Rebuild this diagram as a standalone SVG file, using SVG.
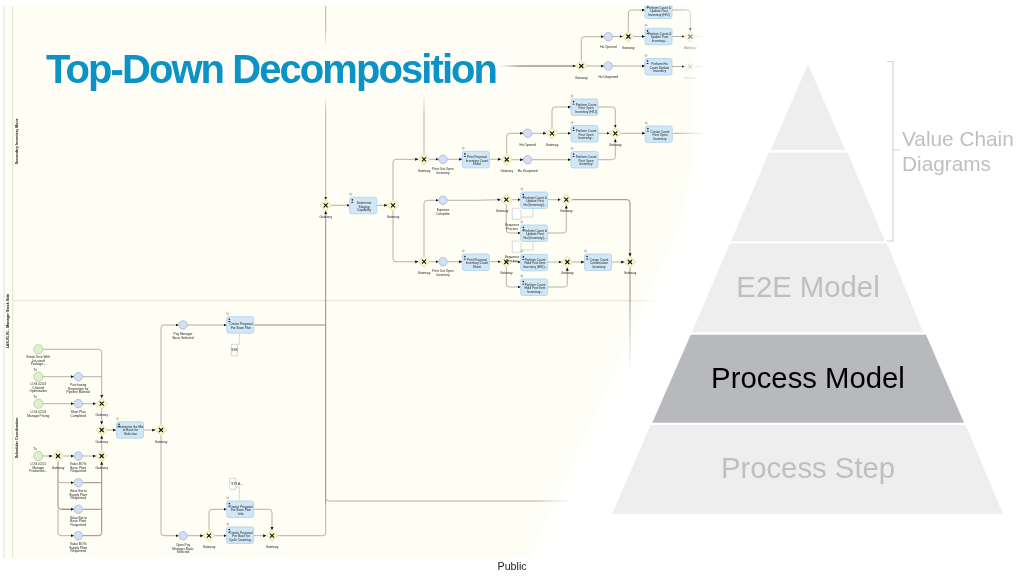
<svg xmlns="http://www.w3.org/2000/svg" width="1024" height="576" viewBox="0 0 1024 576">
<style>
.t{font-family:"Liberation Sans",Arial,sans-serif;font-size:3.2px;fill:#222;text-anchor:middle}
.lane{font-family:"Liberation Sans",Arial,sans-serif;font-size:3.6px;font-weight:bold;fill:#111;stroke:none;text-anchor:middle}
.l{fill:none;stroke:#b2b2a8;stroke-width:1;stroke-linejoin:round}
.d{stroke:#8e8e86}
.a{marker-end:url(#ah)}
.as{fill:none;stroke:#d0d0c8;stroke-width:.8}
.gwb{fill:#fdf8cf;stroke:#d8d49c;stroke-width:.8}
.gwx{stroke:#111;stroke-width:1.1;fill:none}
.tb{fill:#d0e7f7;stroke:#aed2ea;stroke-width:.8}
.ev{fill:#d3dff2;stroke:#a6bcdc;stroke-width:.9}
.st{fill:#dcf0d0;stroke:#aed596;stroke-width:.9}
.nt{fill:#fff;stroke:#c8c8c0;stroke-width:.7}
.py{fill:#eeeeee}
.pt{font-family:"Liberation Sans",Arial,sans-serif;fill:#bfbfbf;text-anchor:middle;font-size:29.3px}
</style>
<defs>
<marker id="ah" markerWidth="4" markerHeight="4" refX="3.2" refY="1.5" orient="auto" markerUnits="userSpaceOnUse"><path d="M0 0L3.2 1.5L0 3z" fill="#111"/></marker>
<filter id="soft" x="-2%" y="-2%" width="104%" height="104%"><feGaussianBlur stdDeviation="0.35"/></filter>
<filter id="bl" x="-10%" y="-40%" width="120%" height="180%"><feGaussianBlur stdDeviation="7"/></filter>
<linearGradient id="diag" gradientUnits="userSpaceOnUse" x1="633" y1="286.5" x2="663" y2="300"><stop offset="0" stop-color="#fff" stop-opacity="0"/><stop offset="1" stop-color="#fff"/></linearGradient>
<linearGradient id="rgt" gradientUnits="userSpaceOnUse" x1="678" y1="0" x2="705" y2="0"><stop offset="0" stop-color="#fff" stop-opacity="0"/><stop offset="1" stop-color="#fff"/></linearGradient>
<g id="gw"><path class="gwb" d="M0-5.6L5.6 0L0 5.6L-5.6 0z"/><path class="gwx" d="M-2-2L2 2M2-2L-2 2"/></g>
<g id="tk"><circle cx="1" cy="-3" r="1" fill="#e8eef0" stroke="#777" stroke-width=".4"/><rect class="tb" width="27" height="16.5" rx="2"/><circle cx="2.6" cy="2.6" r=".8" fill="#111"/><path d="M1.4 5.4q1.2-2 2.4 0z" fill="#111"/></g>
</defs>
<rect width="1024" height="576" fill="#fff"/>
<g id="diagram" filter="url(#soft)">
<rect x="4" y="6" width="700" height="552" fill="#fefef4"/>
<g id="lanes" fill="none" stroke="#e2e2d9" stroke-width="1">
<path d="M4 6V558M12.7 6V558M12.7 300.7H670"/>
<text class="lane" transform="translate(17.5 141.5) rotate(-90)">Secondary Inventory Move</text>
<text class="lane" transform="translate(9 321) rotate(-90)">LAN.01.01 - Manager Stock Side</text>
<text class="lane" transform="translate(17.5 438) rotate(-90)">Scheduler Coordination</text>
</g>
<g id="connectors">
<path class="l a" d="M43 349.3H98.7Q101.7 349.3 101.7 352.3V398"/>
<path class="l a" d="M43 376.7H74"/><path class="l" d="M83 376.7H101.7"/>
<path class="l a" d="M43 403.7H74"/><path class="l a" d="M83 403.7H96"/>
<path class="l a" d="M101.7 409.3V424.4"/><path class="l a" d="M101.7 450.4V435.6"/>
<path class="l a" d="M107.3 430H116"/><path class="l a" d="M143.7 430H155.4"/>
<path class="l a" d="M43 456H52.4"/><path class="l a" d="M63.6 456H74"/><path class="l a" d="M83 456H96"/>
<path class="l d" d="M58 461.6V506.3Q58 509.3 61 509.3H74"/>
<path class="l a" d="M58 480Q58 482.7 61 482.7H74"/><path class="l a d" d="M62 509.3H74"/>
<path class="l a" d="M58 509.3V532.7Q58 535.7 61 535.7H74"/>
<path class="l d" d="M83 482.7H101.7M83 509.3H101.7"/>
<path class="l a d" d="M83 535.7H98.7Q101.7 535.7 101.7 532.7V461.6"/>
<path class="l a" d="M161 424.4V328Q161 325 164 325H178.7"/>
<path class="l a" d="M161 435.6V532.7Q161 535.7 164 535.7H178.7"/>
<path class="l a" d="M187.3 325H226.7"/><path class="l a" d="M187.3 535.7H203.4"/>
<path class="l a" d="M214.6 535.7H226.7"/>
<path class="l a" d="M209 530.1V512.3Q209 509.3 212 509.3H226.7"/>
<path class="l a" d="M253.7 509.3H269Q272 509.3 272 512.3V530.1"/>
<path class="l a" d="M253.7 535.7H266.4"/>
<path class="as" d="M239.3 333.3V344.3H237.3M239.3 501V487H235.7"/>
<path class="l d" d="M253.7 325H325.7"/>
<path class="l" d="M277.6 535.7H322.7Q325.7 535.7 325.7 532.7V504"/>
<path class="l d a" d="M325.7 504V210.9"/>
<path class="l" d="M325.7 498Q325.7 501 328.7 501H640"/>
<path class="l a" d="M325.7 6V199.7"/>
<path class="l a" d="M331.3 205.3H349.7"/><path class="l a" d="M376.7 205.3H387.4"/>
<path class="l a" d="M393 199.7V162.3Q393 159.3 396 159.3H418.4"/>
<path class="l a" d="M393 210.9V258.7Q393 261.7 396 261.7H418.4"/>
<path class="l a" d="M429.6 159.3H438.7"/><path class="l a" d="M447.3 159.3H462.3"/><path class="l a" d="M489.3 159.3H501.1"/>
<path class="l a" d="M429.6 261.7H438.7"/><path class="l a" d="M447.3 261.7H462.3"/><path class="l a" d="M489.3 261.7H500.7"/>
<path class="l" d="M424 153.7V69Q424 66 427 66H575.7"/>
<path class="l a d" d="M500 66H575.7"/>
<path class="l a" d="M424 256.1V203.3Q424 200.3 427 200.3H438.7"/>
<path class="l a" d="M447.3 200.3H475L500.7 199.7"/>
<path class="l a" d="M512 199.7H520.7"/>
<path class="l a" d="M506.3 205.3V230Q506.3 233 509.3 233H520.7"/>
<path class="l a" d="M547.7 199.7H560.7"/>
<path class="l a" d="M547.7 233H563.3Q566.3 233 566.3 230V205.3"/>
<path class="l d a" d="M571.9 199.7H627Q630 199.7 630 202.7V256.4"/>
<path class="l d" d="M630 267.6V385"/>
<path class="l a" d="M512 262H520.7"/>
<path class="l a" d="M506.3 267.6V284Q506.3 287 509.3 287H520.7"/>
<path class="l a" d="M547.7 262H561.7"/>
<path class="l a" d="M547.7 287H564.3Q567.3 287 567.3 284V267.6"/>
<path class="l a" d="M572.9 262H584.3"/><path class="l a" d="M611.7 262H624.4"/>
<path class="l a" d="M506.7 153.7V136.3Q506.7 133.3 509.7 133.3H523.4"/>
<path class="l a" d="M512 159.7H523.4"/>
<path class="l a" d="M532 159.7H571"/>
<path class="l a" d="M532 133.3H546.4"/>
<path class="l a" d="M557.6 133.3H571"/>
<path class="l a" d="M552 127.7V110Q552 107 555 107H571"/>
<path class="l a" d="M598 107H612.3Q615.3 107 615.3 110V127.7"/>
<path class="l a" d="M598 133.3H609.7"/>
<path class="l a" d="M598 159.7H612.3Q615.3 159.7 615.3 156.7V139"/>
<path class="l a" d="M620.9 133.3H645.3"/><path class="l" d="M672.3 133.3H704"/>
<path class="l a" d="M581.3 60.4V39.7Q581.3 36.7 584.3 36.7H604"/>
<path class="l a" d="M586.9 66H604"/>
<path class="l a" d="M612.6 36.5H622.7"/><path class="l a" d="M612.6 66H645"/>
<path class="l a" d="M628.3 30.7V13Q628.3 10 631.3 10H645"/>
<path class="l a" d="M633.9 36.5H645"/>
<path class="l a" d="M672 10H687.3Q690.3 10 690.3 13V31"/>
<path class="l a" d="M672 36.5H684.7"/>
<path class="l a" d="M672 66.5H684.7"/>
<path class="l" d="M696 36.7H704M696 66.7H704"/>
</g>
<g id="n-s1"><circle class="st" cx="38.3" cy="349.3" r="4.6"/><text class="t" x="38.3" y="358">Break Time With</text><text class="t" x="38.3" y="361.6">Lot-sized</text><text class="t" x="38.3" y="365.2">Package...</text></g>
<g id="n-s2"><circle class="st" cx="38.3" cy="376.7" r="4.6"/><text class="t" x="35" y="370.5">Tx</text><text class="t" x="38.3" y="385">LOG.02.03</text><text class="t" x="38.3" y="388.6">Channel</text><text class="t" x="38.3" y="392.2">Optimisation</text></g>
<g id="n-s3"><circle class="st" cx="38.3" cy="403.7" r="4.6"/><text class="t" x="35" y="397.5">Tx</text><text class="t" x="38.3" y="413">LOG.02.03</text><text class="t" x="38.3" y="416.6">Manage Pricing</text></g>
<g id="n-s4"><circle class="st" cx="38.3" cy="456" r="4.6"/><text class="t" x="35" y="449.8">Tx</text><text class="t" x="38.3" y="465">LOG.02.01</text><text class="t" x="38.3" y="468.6">Manage</text><text class="t" x="38.3" y="472.2">Production...</text></g>
<g id="n-e1"><circle class="ev" cx="78.3" cy="376.7" r="4.2"/><text class="t" x="78.3" y="386">Purchasing</text><text class="t" x="78.3" y="389.6">Requisition for</text><text class="t" x="78.3" y="393.2">Pipeline Material</text></g>
<g id="n-e2"><circle class="ev" cx="78.3" cy="403.7" r="4.2"/><text class="t" x="78.3" y="413">Short Plan</text><text class="t" x="78.3" y="416.6">Completed</text></g>
<g id="n-e3"><circle class="ev" cx="78.3" cy="456" r="4.2"/><text class="t" x="78.3" y="465">Value BOTs</text><text class="t" x="78.3" y="468.6">Basic Plant</text><text class="t" x="78.3" y="472.2">Requested</text></g>
<g id="n-e4"><circle class="ev" cx="78.3" cy="482.7" r="4.2"/><text class="t" x="78.3" y="492">Value Bot to</text><text class="t" x="78.3" y="495.6">Supply Plant</text><text class="t" x="78.3" y="499.2">Requested</text></g>
<g id="n-e5"><circle class="ev" cx="78.3" cy="509.3" r="4.2"/><text class="t" x="78.3" y="518.6">Value Bot to</text><text class="t" x="78.3" y="522.2">Basic Plant</text><text class="t" x="78.3" y="525.8">Requested</text></g>
<g id="n-e6"><circle class="ev" cx="78.3" cy="535.7" r="4.2"/><text class="t" x="78.3" y="545">Value BOTs</text><text class="t" x="78.3" y="548.6">Supply Plant</text><text class="t" x="78.3" y="552.2">Requested</text></g>
<g id="n-g1"><use href="#gw" x="101.7" y="403.7"/><text class="t" x="101.7" y="416">Gateway</text></g>
<g id="n-g2"><use href="#gw" x="101.7" y="430"/><text class="t" x="101.7" y="442.5">Gateway</text></g>
<g id="n-g3"><use href="#gw" x="101.7" y="456"/><text class="t" x="101.7" y="469">Gateway</text></g>
<g id="n-g4"><use href="#gw" x="58" y="456"/><text class="t" x="58" y="469">Gateway</text></g>
<g id="n-t1"><use href="#tk" x="116.5" y="421.7"/><text class="t" x="130.5" y="427.5">Determine the Mix</text><text class="t" x="130.5" y="431">of Base for</text><text class="t" x="130.5" y="434.5">Selection</text></g>
<g id="n-g5"><use href="#gw" x="161" y="430"/><text class="t" x="161" y="442.5">Gateway</text></g>
<g id="n-e7"><circle class="ev" cx="183" cy="325" r="4.2"/><text class="t" x="183" y="335">Pay Manager</text><text class="t" x="183" y="338.6">Basic Selected</text></g>
<g id="n-t2"><use href="#tk" x="226.7" y="316.7"/><text class="t" x="241" y="325">Create Proposal</text><text class="t" x="241" y="328.5">For Base Plan</text></g>
<g id="n-n1"><path class="nt" d="M231.3 344.3H237.3V355.7H231.3z"/><text class="t" x="234.5" y="351">SSS</text></g>
<g id="n-e8"><circle class="ev" cx="183" cy="535.7" r="4.2"/><text class="t" x="183" y="546">Open Pay</text><text class="t" x="183" y="549.6">Manager Basic</text><text class="t" x="183" y="553.2">Selected</text></g>
<g id="n-g6"><use href="#gw" x="209" y="535.7"/><text class="t" x="209" y="548">Gateway</text></g>
<g id="n-t3"><use href="#tk" x="226.7" y="501"/><text class="t" x="241" y="507.5">Create Proposal</text><text class="t" x="241" y="511">For Base Plan</text><text class="t" x="241" y="514.5">Info</text></g>
<g id="n-t4"><use href="#tk" x="226.7" y="527"/><text class="t" x="241" y="533.5">Create Proposal</text><text class="t" x="241" y="537">For Base for</text><text class="t" x="241" y="540.5">Cycle Counting...</text></g>
<g id="n-n2"><path class="nt" d="M229.7 478.3H235.7V489.3H229.7z"/><text class="t" x="237" y="485">STS A...</text></g>
<g id="n-g7"><use href="#gw" x="272" y="535.7"/><text class="t" x="272" y="548">Gateway</text></g>
<g id="n-g8"><use href="#gw" x="325.7" y="205.3"/><text class="t" x="325.7" y="218">Gateway</text></g>
<g id="n-t5"><use href="#tk" x="349.7" y="197.3"/><text class="t" x="364" y="204">Determine</text><text class="t" x="364" y="207.5">Staging</text><text class="t" x="364" y="211">Capability</text></g>
<g id="n-g9"><use href="#gw" x="393" y="205.3"/><text class="t" x="393" y="218">Gateway</text></g>
<g id="n-g10"><use href="#gw" x="424" y="159.3"/><text class="t" x="424" y="172">Gateway</text></g>
<g id="n-e9"><circle class="ev" cx="443" cy="159.3" r="4.2"/><text class="t" x="443" y="170">Print Out Open</text><text class="t" x="443" y="173.6">Inventory</text></g>
<g id="n-t6"><use href="#tk" x="462.3" y="151.3"/><text class="t" x="477" y="158">Print Proposal</text><text class="t" x="477" y="161.5">Inventory Count</text><text class="t" x="477" y="165">Sheet</text></g>
<g id="n-g11"><use href="#gw" x="506.7" y="159.5"/><text class="t" x="506.7" y="172">Gateway</text></g>
<g id="n-g12"><use href="#gw" x="424" y="261.7"/><text class="t" x="424" y="274">Gateway</text></g>
<g id="n-e10"><circle class="ev" cx="443" cy="261.7" r="4.2"/><text class="t" x="443" y="272">Print Out Open</text><text class="t" x="443" y="275.6">Inventory</text></g>
<g id="n-t7"><use href="#tk" x="462.3" y="254"/><text class="t" x="477" y="260.5">Print Proposal</text><text class="t" x="477" y="264">Inventory Count</text><text class="t" x="477" y="267.5">Sheet</text></g>
<g id="n-g13"><use href="#gw" x="506.3" y="262"/><text class="t" x="506.3" y="274">Gateway</text></g>
<g id="n-e11"><circle class="ev" cx="443" cy="200.3" r="4.2"/><text class="t" x="443" y="211">Expense</text><text class="t" x="443" y="214.6">Complete</text></g>
<g id="n-g14"><use href="#gw" x="506.3" y="199.7"/><text class="t" x="502" y="212">Gateway</text></g>
<g id="n-t8"><use href="#tk" x="520.7" y="192"/><text class="t" x="535" y="198.5">Perform Count &amp;</text><text class="t" x="535" y="202">Update Post</text><text class="t" x="535" y="205.5">Hu (Inventory)...</text></g>
<g id="n-n3"><path class="nt" d="M512.3 208.3H518.5L521 211V219.3H512.3z"/><path class="as" d="M521 217H533V208.3"/></g>
<g id="n-t9"><use href="#tk" x="520.7" y="225"/><text class="t" x="535" y="231.5">Perform Count &amp;</text><text class="t" x="535" y="235">Update Post</text><text class="t" x="535" y="238.5">Hu (Inventory)...</text></g>
<g id="n-n4"><path class="nt" d="M512.3 241H518.5L521 243.7V252.3H512.3z"/><path class="as" d="M521 250H533V241.5"/></g>
<text id="n-l1" class="t" x="512" y="226">Sequence</text><text id="n-l2" class="t" x="512" y="229.5">Process</text>
<text id="n-l3" class="t" x="512" y="258">Sequence</text><text id="n-l4" class="t" x="512" y="261.5">Process</text>
<g id="n-g15"><use href="#gw" x="566.3" y="199.7"/><text class="t" x="566.3" y="212">Gateway</text></g>
<g id="n-t10"><use href="#tk" x="520.7" y="254.3"/><text class="t" x="535" y="260.8">Perform Count</text><text class="t" x="535" y="264.3">Hold Post Item</text><text class="t" x="535" y="267.8">Inventory (H/U)...</text></g>
<g id="n-t11"><use href="#tk" x="520.7" y="279"/><text class="t" x="535" y="285.5">Perform Count</text><text class="t" x="535" y="289">Hold Post Item</text><text class="t" x="535" y="292.5">Inventory...</text></g>
<g id="n-g16"><use href="#gw" x="567.3" y="262"/><text class="t" x="567.3" y="274">Gateway</text></g>
<g id="n-t12"><use href="#tk" x="584.5" y="254"/><text class="t" x="599" y="260.5">Create Count</text><text class="t" x="599" y="264">Confirmation</text><text class="t" x="599" y="267.5">Inventory</text></g>
<g id="n-g17"><use href="#gw" x="630" y="262"/><text class="t" x="630" y="274">Gateway</text></g>
<g id="n-e12"><circle class="ev" cx="527.7" cy="133.3" r="4.2"/><text class="t" x="527.7" y="146">Hu Opened</text></g>
<g id="n-e13"><circle class="ev" cx="527.7" cy="159.7" r="4.2"/><text class="t" x="527.7" y="172">Hu Unopened</text></g>
<g id="n-g18"><use href="#gw" x="552" y="133.3"/><text class="t" x="552" y="146">Gateway</text></g>
<g id="n-t13"><use href="#tk" x="571" y="99"/><text class="t" x="586" y="105.5">Perform Count</text><text class="t" x="586" y="109">Post Open</text><text class="t" x="586" y="112.5">Inventory (H/U)</text></g>
<g id="n-t14"><use href="#tk" x="571" y="125.5"/><text class="t" x="586" y="132">Perform Count</text><text class="t" x="586" y="135.5">Post Open</text><text class="t" x="586" y="139">Inventory...</text></g>
<g id="n-t15"><use href="#tk" x="571" y="151.5"/><text class="t" x="586" y="158">Perform Count</text><text class="t" x="586" y="161.5">Post Open</text><text class="t" x="586" y="165">Inventory</text></g>
<g id="n-g19"><use href="#gw" x="615.3" y="133.3"/><text class="t" x="615.3" y="146">Gateway</text></g>
<g id="n-t16"><use href="#tk" x="645.3" y="126"/><text class="t" x="660" y="132.5">Create Count</text><text class="t" x="660" y="136">Post Open</text><text class="t" x="660" y="139.5">Inventory</text></g>
<g id="n-g20"><use href="#gw" x="581.3" y="66"/><text class="t" x="581.3" y="78.5">Gateway</text></g>
<g id="n-e14"><circle class="ev" cx="608.3" cy="36.7" r="4.2"/><text class="t" x="608.3" y="48">Hu Opened</text></g>
<g id="n-e15"><circle class="ev" cx="608.3" cy="66" r="4.2"/><text class="t" x="608.3" y="78">Hu Unopened</text></g>
<g id="n-g21"><use href="#gw" x="628.3" y="36.5"/><text class="t" x="628.3" y="49">Gateway</text></g>
<g id="n-t17"><use href="#tk" x="645" y="2"/><text class="t" x="659" y="8.5">Perform Count &amp;</text><text class="t" x="659" y="12">Update Post</text><text class="t" x="659" y="15.5">Inventory (H/U)</text></g>
<g id="n-t18"><use href="#tk" x="645" y="28.3"/><text class="t" x="659.5" y="34.8">Perform Count &amp;</text><text class="t" x="659.5" y="38.3">Update Post</text><text class="t" x="659.5" y="41.8">Inventory...</text></g>
<g id="n-t19"><use href="#tk" x="645" y="58.5"/><text class="t" x="659.5" y="65">Perform Hu</text><text class="t" x="659.5" y="68.5">Count Update</text><text class="t" x="659.5" y="72">Inventory</text></g>
<g id="n-g22"><use href="#gw" x="690.3" y="36.7"/><text class="t" x="690.3" y="49">Gateway</text></g>
<g id="n-g23" opacity=".35"><use href="#gw" x="690.3" y="66.7"/><text class="t" x="690.3" y="79">Gateway</text></g>
</g>
<rect id="title-veil" x="40" y="38" width="470" height="66" fill="#fefef7" filter="url(#bl)"/>
<rect id="veil-top" x="0" y="0" width="1024" height="5.5" fill="#fff"/>
<rect id="fade-right" x="678" y="0" width="346" height="576" fill="url(#rgt)"/>
<rect id="fade-diag" x="500" y="0" width="524" height="576" fill="url(#diag)"/>
<text id="title" x="46" y="82.5" font-family="'Liberation Sans',Arial,sans-serif" font-size="40" font-weight="bold" letter-spacing="-1.93" fill="#0b93c5">Top-Down Decomposition</text>
<g id="pyr1"><path class="py" d="M808 64L845 150H771z"/></g>
<g id="pyr2"><path class="py" d="M769 152.5H847.5L885 241.3H731z"/></g>
<g id="pyr3"><path class="py" d="M730 243.3H887L923 332H692z"/><text class="pt" x="808" y="297">E2E Model</text></g>
<g id="pyr4"><path d="M690.7 334.7H926L964 422.7H652.3z" fill="#b8b9bd"/><text class="pt" x="808" y="387.5" style="fill:#000">Process Model</text></g>
<g id="pyr5"><path class="py" d="M650.7 425H965.7L1003 514H612z"/><text class="pt" x="808" y="478">Process Step</text></g>
<path id="bracket" d="M887 61.5H893V241H887M893 150H900" fill="none" stroke="#d4d4d4" stroke-width="1.2"/>
<text id="vc" font-family="'Liberation Sans',Arial,sans-serif" font-size="20.8" fill="#bfbfbf"><tspan x="902" y="145.5">Value Chain</tspan><tspan x="902" y="171">Diagrams</tspan></text>
<text id="public" x="497.5" y="569.5" font-family="'Liberation Sans',Arial,sans-serif" font-size="10.7" fill="#222">Public</text>
</svg>
